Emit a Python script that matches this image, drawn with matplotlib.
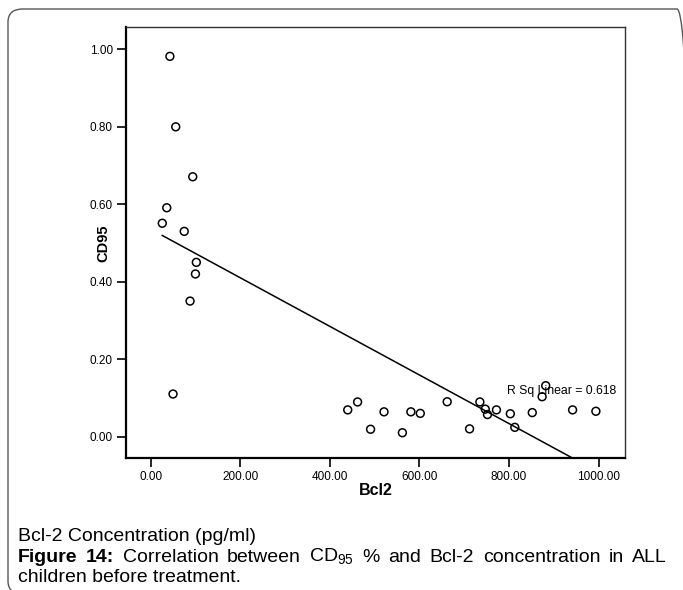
import numpy as np
import matplotlib.pyplot as plt
from matplotlib.patches import FancyBboxPatch

plt.rcParams['font.family'] = ['Liberation Sans', 'DejaVu Sans']
plt.rcParams['mathtext.fontset'] = 'custom'
plt.rcParams['mathtext.rm'] = 'Liberation Sans'

# Bcl2 (pg/ml) vs CD95 (%) values
bcl2 = [43, 56, 94, 36, 26, 75, 102, 100, 88, 50,
        440, 462, 491, 521, 562, 581, 602, 662, 712, 735,
        747, 752, 772, 803, 813, 852, 874, 882, 942, 994]
cd95 = [0.982, 0.800, 0.671, 0.591, 0.551, 0.530, 0.450, 0.420, 0.350, 0.110,
        0.069, 0.0895, 0.019, 0.064, 0.010, 0.064, 0.060, 0.090, 0.020, 0.0895,
        0.071, 0.057, 0.069, 0.059, 0.024, 0.062, 0.103, 0.1315, 0.069, 0.0655]
r_sq_label = "R Sq Linear = 0.618"
x_ticks = [0, 200, 400, 600, 800, 1000]
y_ticks = [0.0, 0.2, 0.4, 0.6, 0.8, 1.0]

W, H = 683, 590
fig = plt.figure(figsize=(W / 100, H / 100), dpi=100)

# rounded page border, only top-left part falls inside the image
border = FancyBboxPatch((8 / W, 1 - 594 / H), (692 - 8) / W, (594 - 9) / H,
                        boxstyle="round,pad=0,rounding_size=0.022",
                        transform=fig.transFigure, fill=False,
                        edgecolor="#555555", linewidth=1.0)
fig.add_artist(border)

ax = fig.add_axes([126 / W, 1 - 458.3 / H, (625 - 126) / W, (458.3 - 27.3) / H])

ax.scatter(bcl2, cd95, s=32, facecolors="none", edgecolors="black", linewidths=1.1, zorder=3)

# linear fit over the data range
x = np.array(bcl2, dtype=float)
slope, intercept = np.polyfit(x, np.array(cd95), 1)
xs = np.array([x.min(), x.max()])
ax.plot(xs, intercept + slope * xs, color="black", linewidth=1.1)

ax.text(795, 0.1187, r_sq_label, fontsize=8.8, va="center", ha="left", zorder=4)

ax.set_xlim(-55, 1059)
ax.set_ylim(-0.056, 1.057)
ax.set_xticks(x_ticks)
ax.set_xticklabels([f"{v:.2f}" for v in x_ticks])
ax.set_yticks(y_ticks)
ax.set_yticklabels([f"{v:.2f}" for v in y_ticks])
ax.tick_params(direction="out", length=6.5, width=1.2, labelsize=8.5, pad=3)

for side in ["left", "bottom"]:
    ax.spines[side].set_linewidth(1.6)
for side in ["top", "right"]:
    ax.spines[side].set_linewidth(1.0)
    ax.spines[side].set_color("#333333")

ax.set_xlabel("Bcl2", fontsize=11.5, fontweight="bold")
ax.xaxis.set_label_coords(0.5, (458.3 - 483) / 431)
ax.set_ylabel("CD95", fontsize=10.5, fontweight="bold")
ax.yaxis.set_label_coords((110 - 126) / 499, 0.5)

# caption below the chart
cap_size = 14
fig.text(18 / W, 1 - 541 / H, "Bcl-2 Concentration (pg/ml)", fontsize=cap_size, va="baseline", ha="left")

words = [("Figure", "bold"), ("14:", "bold"), ("Correlation", "normal"), ("between", "normal"),
         ("CD$_{95}$", "normal"), ("%", "normal"), ("and", "normal"), ("Bcl-2", "normal"),
         ("concentration", "normal"), ("in", "normal"), ("ALL", "normal")]
renderer = fig.canvas.get_renderer()
objs = [fig.text(0, 1 - 562 / H, w, fontsize=cap_size, fontweight=fw, va="baseline", ha="left")
        for w, fw in words]
widths = [o.get_window_extent(renderer).width for o in objs]
gap = (667 - 18 - sum(widths)) / (len(objs) - 1)
xpos = 18
for o, wd in zip(objs, widths):
    o.set_x(xpos / W)
    xpos += wd + gap

fig.text(18 / W, 1 - 582 / H, "children before treatment.", fontsize=cap_size, va="baseline", ha="left")

fig.savefig("out.png", dpi=100)
